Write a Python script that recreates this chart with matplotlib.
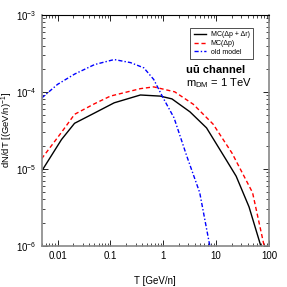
import matplotlib
matplotlib.use("Agg")
import matplotlib.pyplot as plt
import numpy as np

plt.rcParams['font.family'] = ['Liberation Sans', 'DejaVu Sans']
plt.rcParams['mathtext.fontset'] = 'custom'
plt.rcParams['mathtext.rm'] = 'Liberation Sans'
plt.rcParams['mathtext.it'] = 'Liberation Sans:italic'
plt.rcParams['mathtext.bf'] = 'Liberation Sans:bold'

T_black = [0.005, 0.0119, 0.021, 0.05, 0.118, 0.37, 0.88, 1.46, 3.2, 6.6, 15.6, 24, 42, 70]
Y_black = [9.3e-6, 2.4e-5, 3.9e-5, 5.3e-5, 7.2e-5, 9.1e-5, 8.8e-5, 8.1e-5, 5.5e-5, 3.4e-5, 1.3e-5, 8e-6, 3.2e-6, 1e-6]

T_red = [0.005, 0.012, 0.021, 0.05, 0.1, 0.37, 0.66, 1.65, 3.7, 8.8, 20, 49, 81]
Y_red = [1.35e-5, 3.0e-5, 5.1e-5, 7.0e-5, 8.8e-5, 1.1e-4, 1.16e-4, 1.0e-4, 6.9e-5, 3.8e-5, 1.6e-5, 4.9e-6, 1e-6]

T_blue = [0.005, 0.01, 0.021, 0.05, 0.118, 0.24, 0.43, 0.66, 1.0, 1.6, 2.8, 4.9, 7.6]
Y_blue = [8.3e-5, 1.25e-4, 1.7e-4, 2.26e-4, 2.63e-4, 2.4e-4, 2.05e-4, 1.45e-4, 8.3e-5, 4.6e-5, 1.45e-5, 4.9e-6, 1e-6]

labels = ["MC(\u0394p + \u0394r)", "MC(\u0394p)", "old model"]
xticks = [0.01, 0.1, 1, 10, 100]
xticklabels = ["0.01", "0.1", "1", "10", "100"]

fig = plt.figure(figsize=(2.87, 2.87), dpi=100)
ax = fig.add_axes([0.145, 0.144, 0.792, 0.804])
ax.plot(T_black, Y_black, color="black", lw=1.0, label=labels[0])
ax.plot(T_red, Y_red, color="red", lw=1.0, ls=(0, (3, 2)), label=labels[1])
ax.plot(T_blue, Y_blue, color="blue", lw=1.0, ls=(0, (3, 1.5, 1, 1.5)), label=labels[2])
ax.set_xscale("log")
ax.set_yscale("log")
ax.set_xlim(0.005, 100)
ax.set_ylim(1e-6, 1e-3)
ax.set_xticks(xticks)
ax.set_xticklabels(xticklabels)
ax.tick_params(which="both", direction="in", top=True, right=True, labelsize=7)
ax.tick_params(which="major", length=4, width=0.6)
ax.tick_params(which="minor", length=2, width=0.5)
for s in ["left", "right", "bottom"]:
    ax.spines[s].set_color("#888888")
    ax.spines[s].set_linewidth(1.2)
ax.spines["top"].set_linewidth(0.8)
ax.set_xlabel("T [GeV/n]", fontsize=7)
ax.xaxis.set_label_coords(0.5, -0.132)
ax.set_ylabel(r"dN/dT [(GeV/n)$^{-1}$]", fontsize=6.8)
ax.yaxis.set_label_coords(-0.115, 0.5)
leg = ax.legend(loc="upper right", fontsize=5, frameon=True, fancybox=False,
                edgecolor="black", handlelength=1.8, handletextpad=0.6,
                labelspacing=0.25, borderpad=0.5, borderaxespad=0,
                bbox_to_anchor=(0.93, 0.944))
leg.get_frame().set_linewidth(0.6)
ax.text(0.634, 0.748, "u\u016b channel", transform=ax.transAxes,
        fontsize=8, fontweight="bold")
ax.text(0.634, 0.69, r"m$_{\rm DM}$ = 1 TeV", transform=ax.transAxes, fontsize=8)
fig.savefig("out.png", dpi=100)
